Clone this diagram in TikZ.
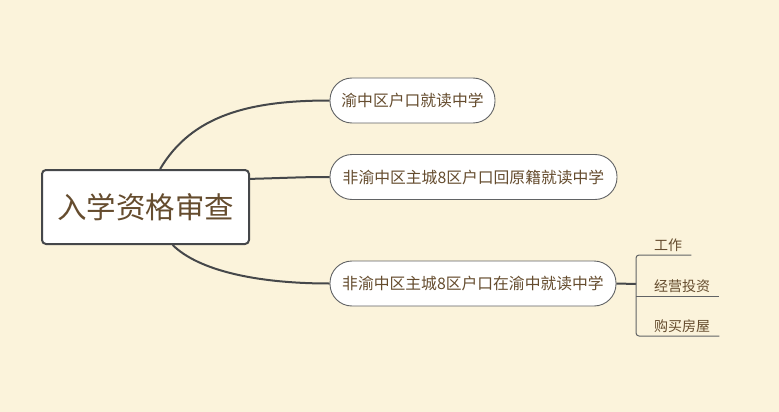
\documentclass[tikz,border=0pt]{standalone}
\usepackage{fontspec}
\setmainfont{Noto Sans CJK SC}
\usetikzlibrary{calc}
\definecolor{bgcolor}{HTML}{FBF3DB}
\definecolor{txtcolor}{HTML}{654C2E}
\definecolor{linecolor}{HTML}{45474A}

\begin{document}
\begin{tikzpicture}[x=1pt, y=-1pt,
    rootbox/.style={draw=linecolor, line width=2pt, rounded corners=4pt, fill=white,
                    minimum width=207pt, minimum height=74pt, inner sep=0pt,
                    text=txtcolor, font=\fontsize{29.5}{34}\selectfont},
    topic/.style={draw=linecolor!85, line width=0.9pt, rounded corners=22pt, fill=white,
                  minimum height=45pt, inner sep=0pt, text=txtcolor,
                  font=\fontsize{15.8}{19}\selectfont},
    leaf/.style={anchor=south west, inner xsep=9pt, inner ysep=3pt, text=txtcolor,
                 font=\fontsize{14}{17}\selectfont},
    conn/.style={draw=linecolor, line width=2pt},
    sub/.style={draw=linecolor!85, line width=1pt}
]
    % background
    \fill[bgcolor] (0,0) rectangle (779,412);
    \useasboundingbox (0,0) rectangle (779,412);

    % central topic
    \node[rootbox] (root) at (145.5,207) {入学资格审查};

    % main topics
    \node[topic, minimum width=165pt] (c1) at (412.5,100.5) {渝中区户口就读中学};
    \node[topic, minimum width=287pt] (c2) at (473.5,177) {非渝中区主城8区户口回原籍就读中学};
    \node[topic, minimum width=286pt] (c3) at (473,283.5) {非渝中区主城8区户口在渝中就读中学};

    % subtopics of c3
    \coordinate (br) at (636,284);
    \node[leaf] (l1) at (645,255) {工作};
    \node[leaf] (l2) at (645,296) {经营投资};
    \node[leaf] (l3) at (645,336) {购买房屋};

    % connectors
    \draw[conn] ($(root.north west)!0.57!(root.north east)$)
        .. controls (192,115) and (250,100.5) .. (c1.west);
    \draw[conn] ($(root.north east)!0.13!(root.south east)$)
        .. controls (285,178) and (300,177) .. (c2.west);
    \draw[conn] ($(root.south west)!0.63!(root.south east)$)
        .. controls (198,270) and (255,283.5) .. (c3.west);
    \draw[conn] (c3.east) -- (br);

    % bracket
    \draw[sub, rounded corners=3pt] (l1.south east) -- (l1.south west -| br)
        -- (l3.south west -| br) -- (l3.south east);
    \draw[sub] (l2.south west -| br) -- (l2.south east);
\end{tikzpicture}
\end{document}
